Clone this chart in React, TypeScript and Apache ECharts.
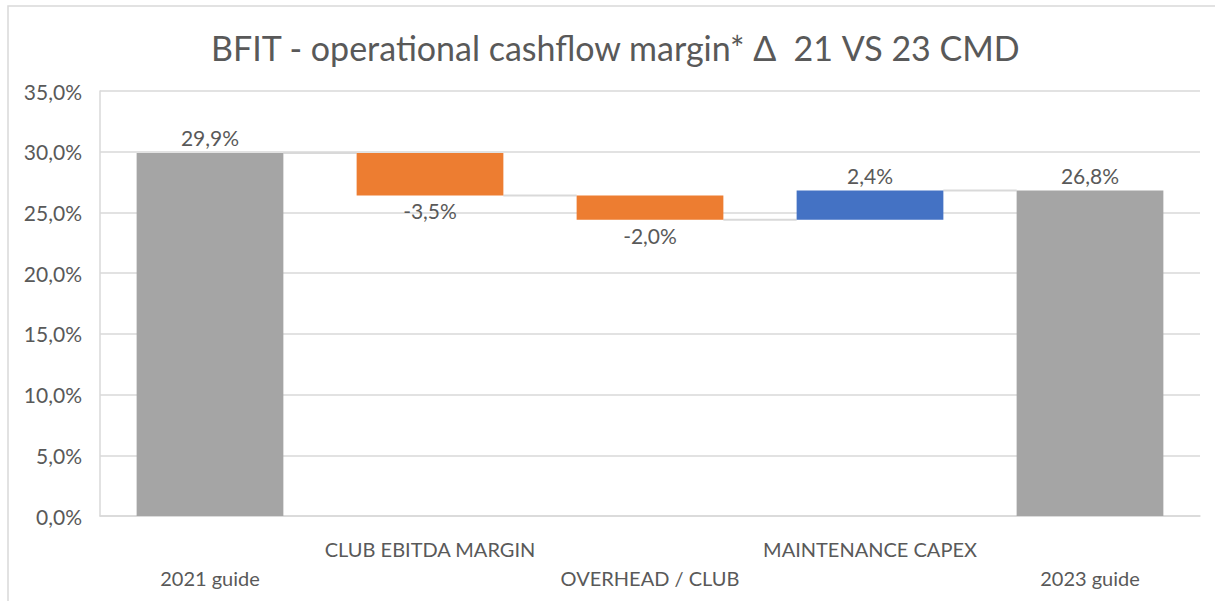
import React, { useEffect, useRef } from "react";
import * as echarts from "echarts";

const categories = ["2021 guide", "CLUB EBITDA MARGIN", "OVERHEAD / CLUB", "MAINTENANCE CAPEX", "2023 guide"];
const steps = [29.9, -3.5, -2.0, 2.4, 26.8];
const isTotal = [true, false, false, false, true];
const yTicks = { min: 0, max: 35, interval: 5 };

const FONT = "Lato, 'Liberation Sans', sans-serif";
const TXT = "#595959";

const fmt = (v: number) => v.toFixed(1).replace(".", ",") + "%";

export default function App() {
  const ref = useRef<HTMLDivElement>(null);
  useEffect(() => {
    document.body.style.margin = "0";
    const chart = echarts.init(ref.current!, null, { renderer: "svg" });

    const base: any[] = [];
    const totals: any[] = [];
    const dec: any[] = [];
    const inc: any[] = [];
    const levels: number[] = [];
    let run = 0;
    steps.forEach((s, i) => {
      if (isTotal[i]) {
        base.push(0);
        totals.push(s);
        dec.push("-");
        inc.push("-");
        run = s;
      } else if (s < 0) {
        base.push(run + s);
        totals.push("-");
        dec.push({ value: -s, raw: s });
        inc.push("-");
        run = run + s;
      } else {
        base.push(run);
        totals.push("-");
        dec.push("-");
        inc.push({ value: s, raw: s });
        run = run + s;
      }
      levels.push(run);
    });
    const connectors = levels.slice(0, -1).map((l, i) => [i, l]);
    const barFrac = 2 / 3;

    const labelStyle = { color: TXT, fontSize: 21, fontFamily: FONT, distance: 5 };

    chart.setOption({
      animation: false,
      textStyle: { fontFamily: FONT },
      title: {
        text: "BFIT - operational cashflow margin* Δ  21 VS 23 CMD",
        left: 206,
        top: 25,
        textStyle: { color: TXT, fontSize: 34, fontWeight: "normal", fontFamily: FONT },
      },
      graphic: [
        {
          type: "rect",
          shape: { x: 8, y: 6, width: 1400, height: 800 },
          style: { fill: "none", stroke: "#d9d9d9", lineWidth: 1.5 },
          silent: true,
        },
      ],
      grid: { left: 100, right: 15, top: 91, bottom: 85, containLabel: false },
      xAxis: {
        type: "category",
        data: categories,
        axisLine: { lineStyle: { color: "#d9d9d9", width: 1.5 } },
        axisTick: { show: false },
        axisLabel: {
          interval: 0,
          color: TXT,
          fontSize: 20,
          fontFamily: FONT,
          margin: 18,
          lineHeight: 29,
          formatter: (v: string, i: number) => (i % 2 === 0 ? "\n" + v : v),
        },
      },
      yAxis: {
        type: "value",
        min: yTicks.min,
        max: yTicks.max,
        interval: yTicks.interval,
        axisLine: { show: true, lineStyle: { color: "#d9d9d9", width: 1.5 } },
        splitLine: { lineStyle: { color: "#d9d9d9", width: 1.5 } },
        axisLabel: { color: TXT, fontSize: 21, fontFamily: FONT, margin: 18, formatter: (v: number) => fmt(v) },
      },
      series: [
        {
          type: "bar",
          stack: "w",
          data: base,
          barCategoryGap: "33.3%",
          itemStyle: { color: "transparent" },
          silent: true,
        },
        {
          type: "bar",
          stack: "w",
          data: totals,
          itemStyle: { color: "#a5a5a5" },
          label: { show: true, position: "top", ...labelStyle, formatter: (p: any) => fmt(p.value) },
        },
        {
          type: "bar",
          stack: "w",
          data: dec,
          itemStyle: { color: "#ed7d31" },
          label: { show: true, position: "bottom", ...labelStyle, formatter: (p: any) => fmt(p.data.raw) },
        },
        {
          type: "bar",
          stack: "w",
          data: inc,
          itemStyle: { color: "#4472c4" },
          label: { show: true, position: "top", ...labelStyle, formatter: (p: any) => fmt(p.data.raw) },
        },
        {
          type: "custom",
          data: connectors,
          z: 1,
          silent: true,
          renderItem: (params: any, api: any) => {
            const i = api.value(0);
            const v = api.value(1);
            const p = api.coord([i, v]);
            const w = api.size([1, 0])[0];
            const bw = w * barFrac;
            return {
              type: "line",
              shape: { x1: p[0] + bw / 2, y1: p[1], x2: p[0] + w - bw / 2, y2: p[1] },
              style: { stroke: "#d9d9d9", lineWidth: 2 },
            };
          },
        },
      ],
    });
    return () => chart.dispose();
  }, []);
  return <div ref={ref} style={{ width: 1215, height: 601 }} />;
}
